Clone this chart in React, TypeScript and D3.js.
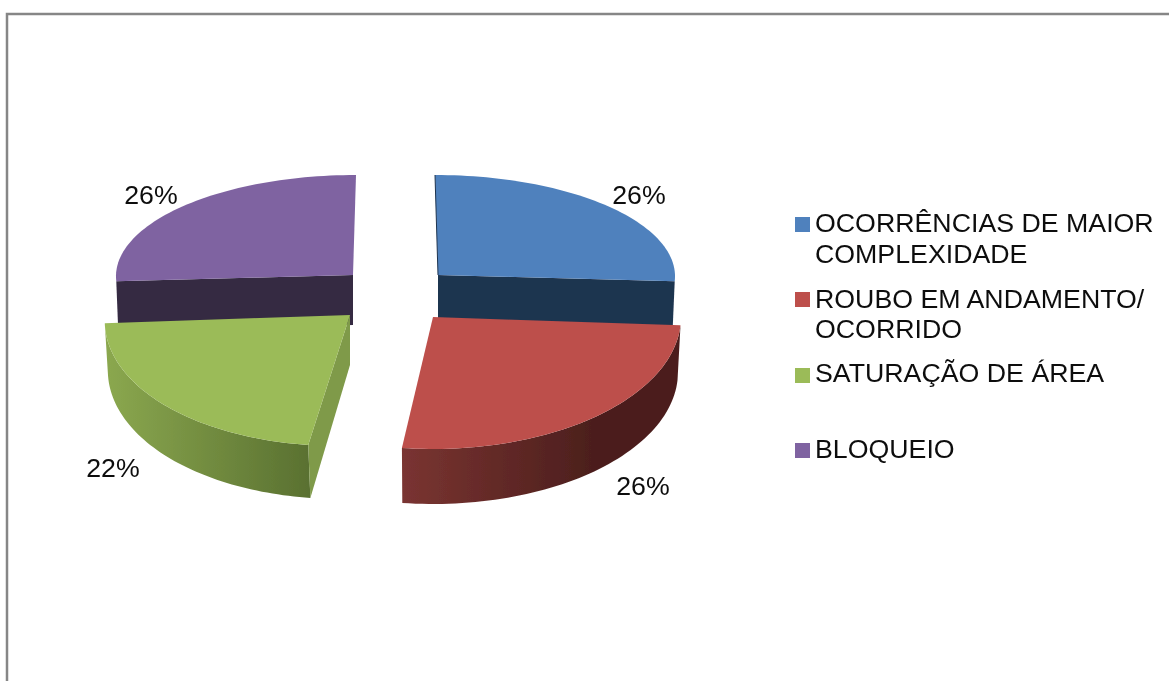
import React from "react";
import * as d3 from "d3";

const categories = ["OCORRÊNCIAS DE MAIOR COMPLEXIDADE", "ROUBO EM ANDAMENTO/ OCORRIDO", "SATURAÇÃO DE ÁREA", "BLOQUEIO"];
const values = [26, 26, 22, 26];
const percentLabels = ["26%", "26%", "22%", "26%"];
const topColors = ["#4f81bd", "#bd4f4c", "#9bbb59", "#7f63a1"];
const cutColors = ["#1f344f", "#4f1f1d", "#7f9a49", "#342a42"];
const outerGradients = [["#1f344f", "#1f344f"], ["#7a3431", "#4c1f1d"], ["#8ba84f", "#5a7131"], ["#342a42", "#342a42"]];
const legendLines = [["OCORRÊNCIAS DE MAIOR", "COMPLEXIDADE"], ["ROUBO EM ANDAMENTO/", "OCORRIDO"], ["SATURAÇÃO DE ÁREA"], ["BLOQUEIO"]];

// Per-slice 3D projection: apex, radii, shear, extruded depth
const projections = [
  { cx: 438, cy: 275, rx: 237, ry: 100, k: 0.03, kLow: 0.03, depth: 46, inset: 2, ryLow: 100 },
  { cx: 433, cy: 317, rx: 248, ry: 132, k: 0, kLow: 0, depth: 55, inset: 3, ryLow: 132 },
  { cx: 350, cy: 315, rx: 245, ry: 131, k: -0.085, kLow: -0.07, depth: 50, inset: 3, ryLow: 134 },
  { cx: 353, cy: 275, rx: 237, ry: 100, k: -0.03, kLow: -0.03, depth: 50, inset: 2, ryLow: 100 },
];
const labelAnchors = [[639, 204], [643, 495], [113, 477], [151, 204]];
const legendBaselines = [[232, 263], [308, 338], [382], [458]];
const swatchTops = [217, 292, 368, 443];

const pieAngles = d3.pie<number>().sort(null).value((d) => d)(values);
const linePath = d3.line<[number, number]>();

function point(i: number, angle: number, lower: boolean): [number, number] {
  const p = projections[i];
  const rx = lower ? p.rx - p.inset : p.rx;
  const ry = lower ? p.ryLow : p.ry;
  const k = lower ? p.kLow : p.k;
  const dy = -ry * Math.cos(angle);
  const x = p.cx + rx * Math.sin(angle) + k * dy;
  const y = p.cy + dy + (lower ? p.depth : 0);
  return [x, y];
}
function arcSamples(i: number, a0: number, a1: number, lower: boolean) {
  return d3.range(0, 61).map((s) => point(i, a0 + ((a1 - a0) * s) / 60, lower));
}

function Slice({ i }: { i: number }) {
  const { startAngle: a0, endAngle: a1 } = pieAngles[i];
  const p = projections[i];
  const apex: [number, number] = [p.cx, p.cy];
  const apexLow: [number, number] = [p.cx, p.cy + p.depth];
  const top = arcSamples(i, a0, a1, false);
  const isFrontRed = i === 1;
  const isFrontGreen = i === 2;
  let outer: string | null = null;
  if (isFrontRed || isFrontGreen) {
    const low = arcSamples(i, a0, a1, true);
    outer = linePath([...top, ...low.slice().reverse()]) + "Z";
  }
  // visible radial cut face
  const cutAngle = i === 0 ? a1 : i === 3 ? a0 : i === 2 ? a0 : null;
  const cut =
    cutAngle !== null
      ? linePath([apex, point(i, cutAngle, false), point(i, cutAngle, true), apexLow]) + "Z"
      : null;
  const xs = top.map((d) => d[0]);
  const minX = d3.min(xs) as number;
  const maxX = d3.max(xs) as number;
  return (
    <g>
      {outer && (
        <>
          <defs>
            <linearGradient
              id={`side${i}`}
              gradientUnits="userSpaceOnUse"
              x1={minX}
              x2={isFrontRed ? minX + 190 : maxX}
              y1={0}
              y2={0}
            >
              <stop offset="0" stopColor={outerGradients[i][0]} />
              <stop offset="1" stopColor={outerGradients[i][1]} />
            </linearGradient>
          </defs>
          <path d={outer} fill={`url(#side${i})`} />
        </>
      )}
      {cut && <path d={cut} fill={cutColors[i]} />}
      <path d={linePath([apex, ...top]) + "Z"} fill={topColors[i]} />
      {i === 0 && (
        <path d={linePath([apex, point(i, a0, false)]) as string} stroke={cutColors[i]} strokeWidth={1} fill="none" />
      )}
    </g>
  );
}

const textStyle = { fontFamily: "'Liberation Sans', Arial, sans-serif", fill: "#111" };

export default function App() {
  return (
    <svg
      width={1169}
      height={681}
      style={{ position: "absolute", left: 0, top: 0, display: "block", background: "#fff" }}
    >
      <defs>
        <filter id="soft" x="-5%" y="-5%" width="110%" height="110%">
          <feGaussianBlur stdDeviation="0.5" />
        </filter>
      </defs>
      <rect x={7} y={14} width={1200} height={700} fill="#fff" stroke="#868686" strokeWidth={2.5} />
      <g filter="url(#soft)">
        {[0, 3, 1, 2].map((i) => (
          <Slice key={categories[i]} i={i} />
        ))}
      </g>
      <g filter="url(#soft)">
        {percentLabels.map((t, i) => (
          <text
            key={i}
            transform={`translate(${labelAnchors[i][0]},${labelAnchors[i][1]}) scale(1.07,1)`}
            textAnchor="middle"
            fontSize={25}
            style={textStyle}
          >
            {t}
          </text>
        ))}
        {legendLines.map((lines, i) => (
          <g key={i}>
            <rect x={795} y={swatchTops[i]} width={15} height={15} fill={topColors[i]} />
            {lines.map((line, j) => (
              <text
                key={j}
                transform={`translate(815,${legendBaselines[i][j]}) scale(1.07,1)`}
                fontSize={25}
                style={textStyle}
              >
                {line}
              </text>
            ))}
          </g>
        ))}
      </g>
    </svg>
  );
}
